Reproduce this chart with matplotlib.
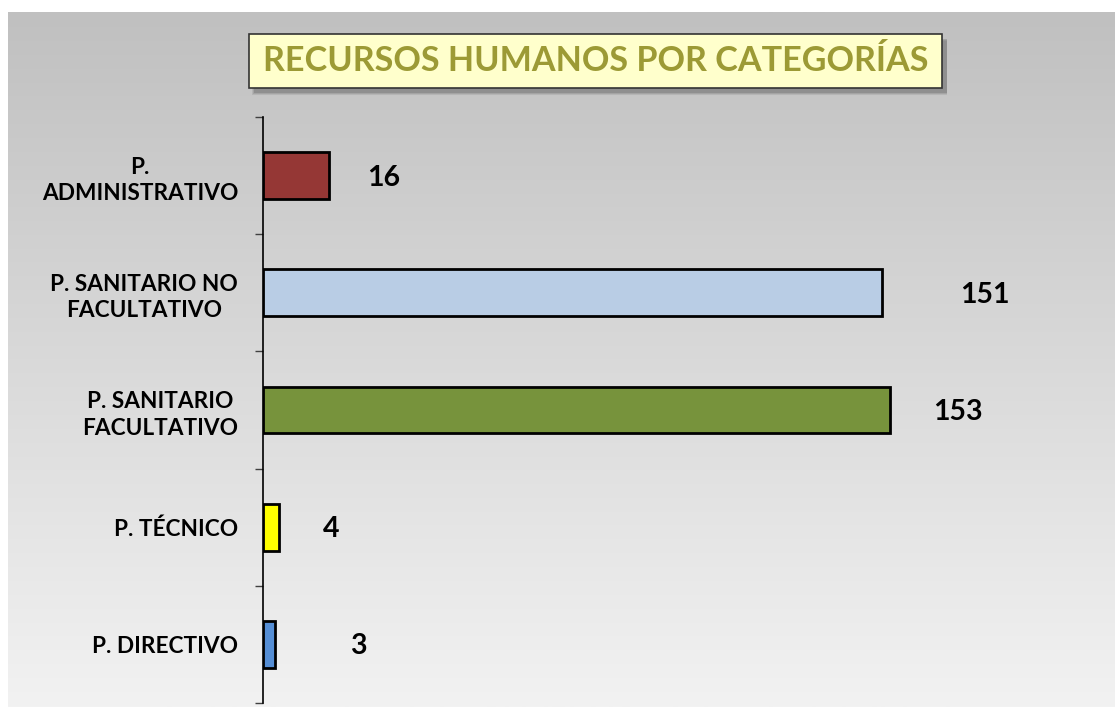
import numpy as np
import matplotlib
matplotlib.use("Agg")
import matplotlib.pyplot as plt
from matplotlib.patches import FancyBboxPatch

# ---- data ----
categories = ["P. DIRECTIVO", "P. TÉCNICO", "P. SANITARIO\nFACULTATIVO",
              "P. SANITARIO NO\nFACULTATIVO", "P.\nADMINISTRATIVO"]
values = [3, 4, 153, 151, 16]
colors = ["#558ED5", "#FFFF00", "#77933C", "#B9CDE5", "#953735"]
title = "RECURSOS HUMANOS POR CATEGORÍAS"
# label offsets (points) from bar end, as placed in the original
label_dx = [60, 37, 49, 74, 40]

plt.rcParams['font.family'] = ['Lato', 'DejaVu Sans']

W, H = 1115, 707
fig = plt.figure(figsize=(W / 100, H / 100), dpi=100)
fig.patch.set_facecolor("white")

# gradient background panel
bg = fig.add_axes([8 / W, 0, 1 - 8 / W, 1 - 12 / H], zorder=-10)
grad = np.linspace(0, 1, 256).reshape(-1, 1)
top = np.array([0xC0, 0xC0, 0xC0]) / 255
bot = np.array([0xF2, 0xF2, 0xF2]) / 255
img = top + (bot - top) * grad[:, :, None] * np.ones((1, 1, 3))
bg.imshow(img, aspect="auto", extent=[0, 1, 0, 1], origin="upper")
bg.set_axis_off()

# main axes
x0, x1 = 263, 1083
y0, y1 = 117, 703
ax = fig.add_axes([x0 / W, 1 - y1 / H, (x1 - x0) / W, (y1 - y0) / H])
ax.set_facecolor("none")
ypos = np.arange(len(categories))
ax.barh(ypos, values, height=0.4, color=colors, edgecolor="black", linewidth=2, zorder=3)
ax.set_xlim(0, 200)
ax.set_ylim(-0.5, len(categories) - 0.5)

for y, v, dx in zip(ypos, values, label_dx):
    ax.annotate(str(v), xy=(v, y), xytext=(dx, -1.5), textcoords="offset points",
                ha="center", va="center", fontsize=20.5, fontweight="bold", color="black")

ax.set_yticks(ypos)
ax.set_yticklabels(categories, fontsize=16.3, fontweight="bold", ha="right",
                   multialignment="center", linespacing=1.33)
ax.tick_params(axis="y", which="major", length=0, pad=18)
ax.set_yticks(np.arange(-0.5, len(categories)), minor=True)
ax.tick_params(axis="y", which="minor", length=6, width=1, color="#404040", direction="out")
ax.set_xticks([])
for s in ["top", "right", "bottom"]:
    ax.spines[s].set_visible(False)
ax.spines["left"].set_color("black")
ax.spines["left"].set_linewidth(1.2)

# title box with shadow
bx0, bx1, by0, by1 = 249, 942, 34, 88
for i, a in enumerate([0.15, 0.2, 0.3]):
    sh = FancyBboxPatch(((bx0 + 3 + i) / W, 1 - (by1 + 7 - i) / H), (bx1 - bx0 + 2 - i) / W,
                        (by1 - by0) / H, boxstyle="square,pad=0", transform=fig.transFigure,
                        facecolor="#606060", edgecolor="none", alpha=a, zorder=1)
    fig.patches.append(sh)
box = FancyBboxPatch((bx0 / W, 1 - by1 / H), (bx1 - bx0) / W, (by1 - by0) / H,
                     boxstyle="square,pad=0", transform=fig.transFigure,
                     facecolor="#FFFFCC", edgecolor="#333333", linewidth=1.2, zorder=2)
fig.patches.append(box)
fig.text((bx0 + bx1) / 2 / W, 1 - (by0 + by1) / 2 / H, title, ha="center", va="center",
         fontsize=24.6, fontweight="bold", color="#9C9A35", zorder=3)

fig.savefig("out.png", dpi=100)
